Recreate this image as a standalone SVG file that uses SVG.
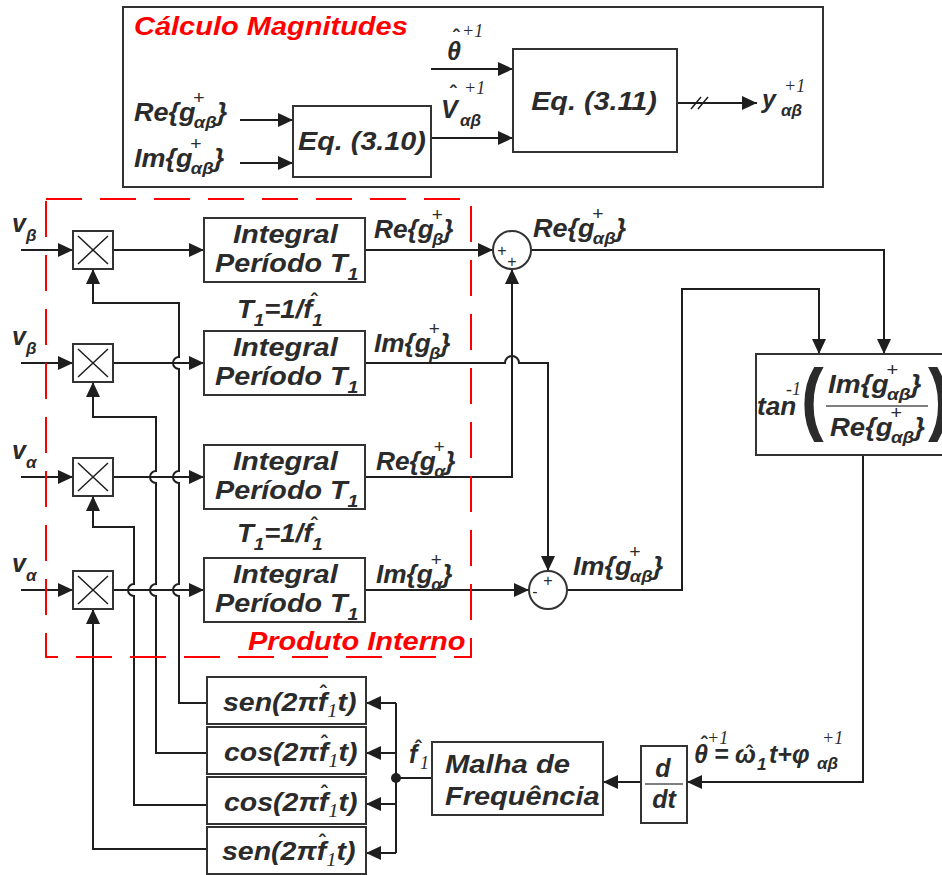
<svg xmlns="http://www.w3.org/2000/svg" width="942" height="875" viewBox="0 0 942 875">
<defs>
<style>
.t{font-family:"Liberation Sans",Arial,sans-serif;font-weight:bold;font-style:italic;font-size:25px;fill:#2b2b2b}
.sb{font-size:17px}
.p{font-weight:normal;font-style:normal;font-size:18px}
.sr{font-family:"Liberation Serif","Times New Roman",serif;font-style:italic;font-weight:normal;font-size:18px;fill:#2b2b2b}
.h{font-family:"Liberation Sans",Arial,sans-serif;font-weight:bold;font-size:20px;fill:#2b2b2b;text-anchor:middle}
.par{font-family:"Liberation Sans",Arial,sans-serif;font-weight:normal;font-size:84px;fill:#2b2b2b}
.pm{font-family:"Liberation Sans",Arial,sans-serif;font-size:16px;fill:#2b2b2b;text-anchor:middle}
.red{fill:#ff0000}
.bx{fill:#fff;stroke:#333;stroke-width:2}
.ln{fill:none;stroke:#1e1e1e;stroke-width:2}
.xs{fill:none;stroke:#1e1e1e;stroke-width:1.5}
.ar{marker-end:url(#ah)}
</style>
<marker id="ah" markerUnits="userSpaceOnUse" markerWidth="15" markerHeight="14" refX="15" refY="7" orient="auto"><path d="M0,0 L15,7 L0,14 Z" fill="#1e1e1e"/></marker>
</defs>
<rect width="942" height="875" fill="#fff"/>

<!-- top box frame -->
<g id="calc-magnitudes">
<rect x="123" y="7" width="700" height="180" fill="none" stroke="#333" stroke-width="2"/>
<text class="t red" transform="translate(134,35) scale(1.16,1)">Cálculo Magnitudes</text>
</g>

<!-- connectors -->
<g id="connectors">
<!-- top box -->
<path class="ln ar" d="M240,120 H293"/>
<path class="ln ar" d="M240,163 H293"/>
<path class="ln ar" d="M431,138 H513"/>
<path class="ln ar" d="M431,69 H513"/>
<path class="ln ar" d="M677,103 H757"/>
<path class="xs" d="M691,109 L701,97 M698,109 L708,97"/>
<!-- inputs to multipliers -->
<path class="ln ar" d="M21,250 H73"/>
<path class="ln ar" d="M21,363 H73"/>
<path class="ln ar" d="M21,477 H73"/>
<path class="ln ar" d="M21,590 H73"/>
<!-- multipliers to integrals -->
<path class="ln ar" d="M113,250 H204"/>
<path class="ln ar" d="M113,363 H204"/>
<path class="ln ar" d="M113,477 H204"/>
<path class="ln ar" d="M113,590 H204"/>
<!-- oscillator outputs to multipliers -->
<path class="ln ar" d="M207,703 H179 V596 A6,6 0 0 1 179,584 V483 A6,6 0 0 1 179,471 V369 A6,6 0 0 1 179,357 V303 H93 V269"/>
<path class="ln ar" d="M207,753 H156 V596 A6,6 0 0 1 156,584 V483 A6,6 0 0 1 156,471 V417 H93 V382"/>
<path class="ln ar" d="M207,805 H134 V596 A6,6 0 0 1 134,584 V527 H93 V496"/>
<path class="ln ar" d="M207,849 H93 V609"/>
<!-- integrals to sums -->
<path class="ln ar" d="M365,250 H493"/>
<path class="ln ar" d="M365,477 H512 V269"/>
<path class="ln ar" d="M365,363 H505 A7,7 0 0 1 519,363 H548 V571"/>
<path class="ln ar" d="M365,590 H529"/>
<!-- sums to atan -->
<path class="ln ar" d="M531,250 H884 V354"/>
<path class="ln ar" d="M567,590 H682 V289 H819 V354"/>
<!-- atan to d/dt -->
<path class="ln ar" d="M863,455 V782 H687"/>
<path class="ln ar" d="M641,782 H603"/>
<!-- frequency loop to oscillators -->
<path class="ln" d="M432,778 H396"/>
<path class="ln" d="M396,703 V853"/>
<path class="ln ar" d="M396,703 H366"/>
<path class="ln ar" d="M396,753 H366"/>
<path class="ln ar" d="M396,804 H366"/>
<path class="ln ar" d="M396,853 H366"/>
<circle cx="396" cy="778" r="5" fill="#1e1e1e"/>
</g>

<!-- top box nodes -->
<g id="eq310">
<rect x="293" y="106" width="138" height="71" class="bx"/>
<text class="t" text-anchor="middle" transform="translate(362,150) scale(1.15,1)">Eq. (3.10)</text>
</g>
<g id="eq311">
<rect x="513" y="49" width="164" height="103" class="bx"/>
<text class="t" text-anchor="middle" transform="translate(594,110) scale(1.15,1)">Eq. (3.11)</text>
</g>
<g id="top-labels">
<text class="t" transform="translate(134,121) scale(1.08,1)">Re{g<tspan class="p" dx="-2" dy="-17">+</tspan><tspan class="sb" dx="-10" dy="24">αβ</tspan><tspan dy="-7">}</tspan></text>
<text class="t" transform="translate(134,167) scale(1.08,1)">Im{g<tspan class="p" dx="-2" dy="-17">+</tspan><tspan class="sb" dx="-10" dy="24">αβ</tspan><tspan dy="-7">}</tspan></text>
<text class="t" x="447" y="60">θ</text>
<text class="h" x="456" y="44">ˆ</text>
<text class="sr" x="462" y="37">+1</text>
<text class="t" x="441" y="118">V</text>
<text class="h" x="453" y="100">ˆ</text>
<text class="sr" x="464" y="94">+1</text>
<text class="t sb" x="460" y="126">αβ</text>
<text class="t" x="762" y="108">y</text>
<text class="sr" x="784" y="92">+1</text>
<text class="t sb" x="781" y="116">αβ</text>
</g>

<!-- multipliers -->
<g id="mul1"><rect x="73" y="231" width="40" height="38" class="bx"/><path class="xs" d="M78,236 L108,264 M108,236 L78,264"/></g>
<g id="mul2"><rect x="73" y="344" width="40" height="38" class="bx"/><path class="xs" d="M78,349 L108,377 M108,349 L78,377"/></g>
<g id="mul3"><rect x="73" y="458" width="40" height="38" class="bx"/><path class="xs" d="M78,463 L108,491 M108,463 L78,491"/></g>
<g id="mul4"><rect x="73" y="571" width="40" height="38" class="bx"/><path class="xs" d="M78,576 L108,604 M108,576 L78,604"/></g>

<g id="in-labels">
<text class="t" x="12" y="232">v<tspan class="sb" dy="9">β</tspan></text>
<text class="t" x="12" y="345">v<tspan class="sb" dy="9">β</tspan></text>
<text class="t" x="12" y="459">v<tspan class="sb" dy="9">α</tspan></text>
<text class="t" x="12" y="572">v<tspan class="sb" dy="9">α</tspan></text>
</g>

<!-- integrators -->
<g id="int1"><rect x="204" y="218" width="161" height="64" class="bx"/>
<text class="t" transform="translate(233,243) scale(1.16,1)">Integral</text>
<text class="t" transform="translate(215,272) scale(1.15,1)">Período T<tspan class="sb" dy="8">1</tspan></text></g>
<g id="int2"><rect x="204" y="331" width="161" height="64" class="bx"/>
<text class="t" transform="translate(233,356) scale(1.16,1)">Integral</text>
<text class="t" transform="translate(215,385) scale(1.15,1)">Período T<tspan class="sb" dy="8">1</tspan></text></g>
<g id="int3"><rect x="204" y="445" width="161" height="64" class="bx"/>
<text class="t" transform="translate(233,470) scale(1.16,1)">Integral</text>
<text class="t" transform="translate(215,499) scale(1.15,1)">Período T<tspan class="sb" dy="8">1</tspan></text></g>
<g id="int4"><rect x="204" y="558" width="161" height="64" class="bx"/>
<text class="t" transform="translate(233,583) scale(1.16,1)">Integral</text>
<text class="t" transform="translate(215,612) scale(1.15,1)">Período T<tspan class="sb" dy="8">1</tspan></text></g>

<g id="period-labels">
<text class="t" transform="translate(237,318) scale(1.1,1)">T<tspan class="sb" dy="8">1</tspan><tspan dy="-8">=1/f</tspan><tspan class="sb" dy="8">1</tspan></text>
<text class="h" x="314" y="308">ˆ</text>
<text class="t" transform="translate(237,542) scale(1.1,1)">T<tspan class="sb" dy="8">1</tspan><tspan dy="-8">=1/f</tspan><tspan class="sb" dy="8">1</tspan></text>
<text class="h" x="314" y="532">ˆ</text>
</g>

<g id="out-labels">
<text class="t" transform="translate(374,238) scale(1.05,1)">Re{g<tspan class="p" dx="-2" dy="-17">+</tspan><tspan class="sb" dx="-10" dy="24">β</tspan><tspan dy="-7">}</tspan></text>
<text class="t" transform="translate(374,352) scale(1.05,1)">Im{g<tspan class="p" dx="-2" dy="-17">+</tspan><tspan class="sb" dx="-10" dy="24">β</tspan><tspan dy="-7">}</tspan></text>
<text class="t" transform="translate(376,470) scale(1.05,1)">Re{g<tspan class="p" dx="-2" dy="-17">+</tspan><tspan class="sb" dx="-10" dy="24">α</tspan><tspan dy="-7">}</tspan></text>
<text class="t" transform="translate(376,583) scale(1.05,1)">Im{g<tspan class="p" dx="-2" dy="-17">+</tspan><tspan class="sb" dx="-10" dy="24">α</tspan><tspan dy="-7">}</tspan></text>
<text class="t" transform="translate(533,237) scale(1.08,1)">Re{g<tspan class="p" dx="-2" dy="-17">+</tspan><tspan class="sb" dx="-10" dy="24">αβ</tspan><tspan dy="-7">}</tspan></text>
<text class="t" transform="translate(573,575) scale(1.08,1)">Im{g<tspan class="p" dx="-2" dy="-17">+</tspan><tspan class="sb" dx="-10" dy="24">αβ</tspan><tspan dy="-7">}</tspan></text>
</g>

<!-- sums -->
<g id="sum1"><circle cx="512" cy="250" r="19" class="bx"/>
<text class="pm" x="502" y="256">+</text><text class="pm" x="512" y="267">+</text></g>
<g id="sum2"><circle cx="548" cy="590" r="19" class="bx"/>
<text class="pm" x="535" y="597">-</text><text class="pm" x="548" y="586">+</text></g>

<!-- arctangent -->
<g id="atan">
<rect x="756" y="354" width="200" height="101" class="bx"/>
<text class="t" transform="translate(757,415) scale(1.05,1)">tan</text>
<text class="sr" font-size="16" x="786" y="395">-1</text>
<text class="par" transform="translate(801,425) scale(0.85,1)" style="font-weight:bold;font-size:80px">(</text>
<text class="t" transform="translate(828,393) scale(1.12,1)">Im{g<tspan class="p" dx="-2" dy="-17">+</tspan><tspan class="sb" dx="-10" dy="24">αβ</tspan><tspan dy="-7">}</tspan></text>
<path d="M826,406 H928" stroke="#555" stroke-width="1.5"/>
<text class="t" transform="translate(830,436) scale(1.1,1)">Re{g<tspan class="p" dx="-2" dy="-17">+</tspan><tspan class="sb" dx="-10" dy="24">αβ</tspan><tspan dy="-7">}</tspan></text>
<text class="par" transform="translate(928,425) scale(0.85,1)" style="font-weight:bold;font-size:80px">)</text>
</g>

<!-- derivative -->
<g id="ddt">
<rect x="641" y="746" width="46" height="77" class="bx"/>
<text class="t" text-anchor="middle" x="663" y="777">d</text>
<path d="M645,784 H683" stroke="#555" stroke-width="1.5"/>
<text class="t" text-anchor="middle" x="664" y="808">dt</text>
</g>
<g id="theta-label">
<text class="t" x="694" y="763">θ</text>
<text class="h" x="704" y="751">ˆ</text>
<text class="sr" x="707" y="744">+1</text>
<text class="t" x="714" y="763">=</text>
<text class="t" x="735" y="763">ω</text>
<text class="h" x="749" y="760">ˆ</text>
<text class="t sb" x="757" y="770">1</text>
<text class="t" x="769" y="763">t+φ</text>
<text class="sr" x="822" y="744">+1</text>
<text class="t sb" x="817" y="769">αβ</text>
</g>

<!-- frequency loop -->
<g id="malha">
<rect x="432" y="742" width="171" height="73" class="bx"/>
<text class="t" transform="translate(445,773) scale(1.17,1)">Malha de</text>
<text class="t" transform="translate(445,805) scale(1.16,1)">Frequência</text>
</g>
<g id="f1-label">
<text class="t" x="409" y="763">f</text>
<text class="h" x="418" y="755">ˆ</text>
<text class="sr" font-size="17" x="420" y="769">1</text>
</g>

<!-- oscillators -->
<g id="osc1"><rect x="207" y="677" width="159" height="47" class="bx"/>
<text class="t" transform="translate(223,711) scale(1.14,1)">sen(2πf<tspan class="sr" font-size="17" dy="6">1</tspan><tspan dy="-6">t)</tspan></text>
<text class="h" x="323" y="700">ˆ</text></g>
<g id="osc2"><rect x="207" y="727" width="159" height="47" class="bx"/>
<text class="t" transform="translate(224,761) scale(1.14,1)">cos(2πf<tspan class="sr" font-size="17" dy="6">1</tspan><tspan dy="-6">t)</tspan></text>
<text class="h" x="324" y="750">ˆ</text></g>
<g id="osc3"><rect x="207" y="777" width="159" height="47" class="bx"/>
<text class="t" transform="translate(224,811) scale(1.14,1)">cos(2πf<tspan class="sr" font-size="17" dy="6">1</tspan><tspan dy="-6">t)</tspan></text>
<text class="h" x="324" y="800">ˆ</text></g>
<g id="osc4"><rect x="207" y="827" width="159" height="47" class="bx"/>
<text class="t" transform="translate(222,860) scale(1.14,1)">sen(2πf<tspan class="sr" font-size="17" dy="6">1</tspan><tspan dy="-6">t)</tspan></text>
<text class="h" x="322" y="849">ˆ</text></g>

<!-- inner product region -->
<g id="produto-interno">
<rect x="46" y="199" width="425" height="458" fill="none" stroke="#ff0000" stroke-width="2" stroke-dasharray="36 18"/>
<text class="t red" transform="translate(248,650) scale(1.16,1)">Produto Interno</text>
</g>
</svg>
